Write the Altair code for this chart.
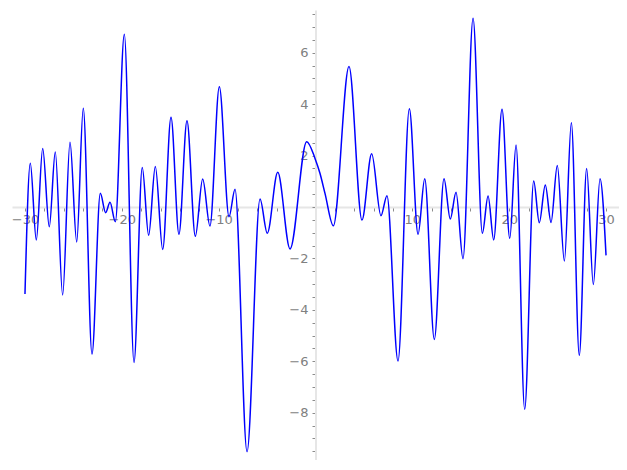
import altair as alt
import pandas as pd

# extrema / key points
xs = [-30.0, -29.45, -28.83, -28.17, -27.49, -26.87, -26.11, -25.35, -24.66, -23.98,
      -23.08, -22.22, -21.67, -21.22, -20.67, -19.74, -18.74, -17.89, -17.23, -16.54,
      -15.78, -14.92, -14.10, -13.27, -12.41, -11.65, -10.90, -9.93, -8.93, -8.31,
      -7.07, -5.73, -4.98, -3.90, -2.63, -0.91, -0.05, 0.46, 0.98, 1.84,
      3.46, 4.80, 5.80, 6.76, 7.38, 8.52, 9.69, 10.59, 11.28, 12.27,
      13.27, 13.92, 14.51, 15.23, 16.27, 17.23, 17.82, 18.40, 19.26, 20.06,
      20.71, 21.60, 22.53, 23.11, 23.73, 24.32, 24.97, 25.70, 26.42, 27.24,
      28.00, 28.69, 29.38, 30.0]
ys = [-3.38, 1.70, -1.28, 2.28, -0.77, 2.14, -3.42, 2.52, -1.36, 3.84,
      -5.72, 0.53, -0.22, 0.18, -0.57, 6.72, -6.05, 1.54, -1.10, 1.58,
      -1.65, 3.49, -1.06, 3.35, -1.14, 1.09, -0.74, 4.68, -0.38, 0.69,
      -9.52, 0.31, -1.02, 1.35, -1.63, 2.54, 1.89, 1.31, 0.53, -0.73,
      5.46, -0.51, 2.07, -0.34, 0.44, -5.99, 3.82, -1.06, 1.10, -5.15,
      1.10, -0.47, 0.57, -2.01, 7.34, -1.02, 0.43, -1.28, 3.80, -1.22,
      2.41, -7.87, 1.01, -0.61, 0.86, -0.60, 1.61, -2.10, 3.28, -5.77,
      1.50, -3.01, 1.10, -1.88]

x_ticks = list(range(-30, 31, 2))
y_ticks = [v / 2 for v in range(-19, 16)]

df = pd.DataFrame({"x": xs, "y": ys})

x_dom = [-31.34, 31.34]
y_dom = [-9.84, 7.662]

label_color = "#808080"

chart = alt.Chart(df).mark_line(
    color="#0000ff", strokeWidth=1.5, interpolate="monotone"
).encode(
    x=alt.X("x:Q", scale=alt.Scale(domain=x_dom, nice=False, zero=False),
            axis=alt.Axis(values=x_ticks, title=None, grid=False, offset=-253,
                          domainColor="#e6e6e6", domainWidth=2,
                          tickColor="#8c8c8c", tickSize=4, tickWidth=1,
                          labelColor=label_color, labelFontSize=13,
                          labelFont="DejaVu Sans", labelPadding=2,
                          labelOverlap=False, labelFlush=False,
                          labelExpr="datum.value % 10 == 0 && datum.value != 0 ? format(datum.value, 'd') : ''")),
    y=alt.Y("y:Q", scale=alt.Scale(domain=y_dom, nice=False, zero=False),
            axis=alt.Axis(values=y_ticks, title=None, grid=False, offset=-303.5,
                          domainColor="#e6e6e6", domainWidth=2,
                          tickColor="#8c8c8c", tickSize=3.5, tickWidth=1,
                          labelColor=label_color, labelFontSize=13,
                          labelFont="DejaVu Sans", labelPadding=4,
                          labelOverlap=False, labelFlush=False,
                          labelExpr="datum.value % 2 == 0 && datum.value != 0 ? format(datum.value, 'd') : ''")),
).properties(
    width=607, height=450,
    autosize=alt.AutoSizeParams(type="none"),
    padding={"left": 4, "top": 2, "right": 0, "bottom": 0},
).configure_view(stroke=None)

chart.save("out.html", embed_options={"renderer": "svg", "actions": False})
